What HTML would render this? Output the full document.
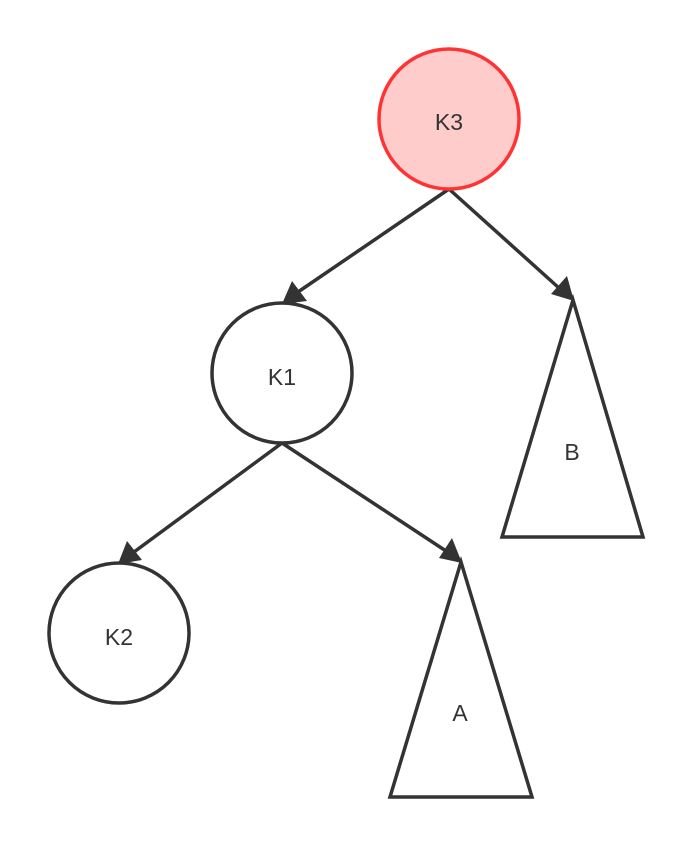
<!DOCTYPE html>
<html><head><meta charset="utf-8"><style>
html,body{margin:0;padding:0;background:#fff;}
svg{display:block;}
text{font-family:"Liberation Sans",sans-serif;font-size:23px;fill:#333;text-anchor:middle;dominant-baseline:central;}
</style></head><body>
<svg width="694" height="848" viewBox="0 0 694 848">
<g stroke="#333" stroke-width="3.5" fill="none">
<line x1="449" y1="189" x2="298" y2="292"/>
<line x1="449" y1="189" x2="559" y2="288"/>
<line x1="282" y1="443" x2="134" y2="552"/>
<line x1="282" y1="443" x2="446" y2="551"/>
</g>
<g fill="#333">
<polygon points="282,304 292,281 307,301"/>
<polygon points="574,301 551,294 567,276"/>
<polygon points="118,564 127,541 142,560"/>
<polygon points="462,563 439,558 452,538"/>
</g>
<circle cx="449" cy="119" r="70" fill="#ffcccc" stroke="#ff3333" stroke-width="3.5"/>
<circle cx="282" cy="373" r="70" fill="#fff" stroke="#333" stroke-width="3.5"/>
<circle cx="119" cy="633" r="70" fill="#fff" stroke="#333" stroke-width="3.5"/>
<polygon points="573,300 502,537 643,537" fill="#fff" stroke="#333" stroke-width="3.5"/>
<polygon points="461,562 390,797 532,797" fill="#fff" stroke="#333" stroke-width="3.5"/>
<text x="449" y="122">K3</text>
<text x="282" y="377">K1</text>
<text x="119" y="637">K2</text>
<text x="572" y="452">B</text>
<text x="460" y="713">A</text>
</svg>
</body></html>
